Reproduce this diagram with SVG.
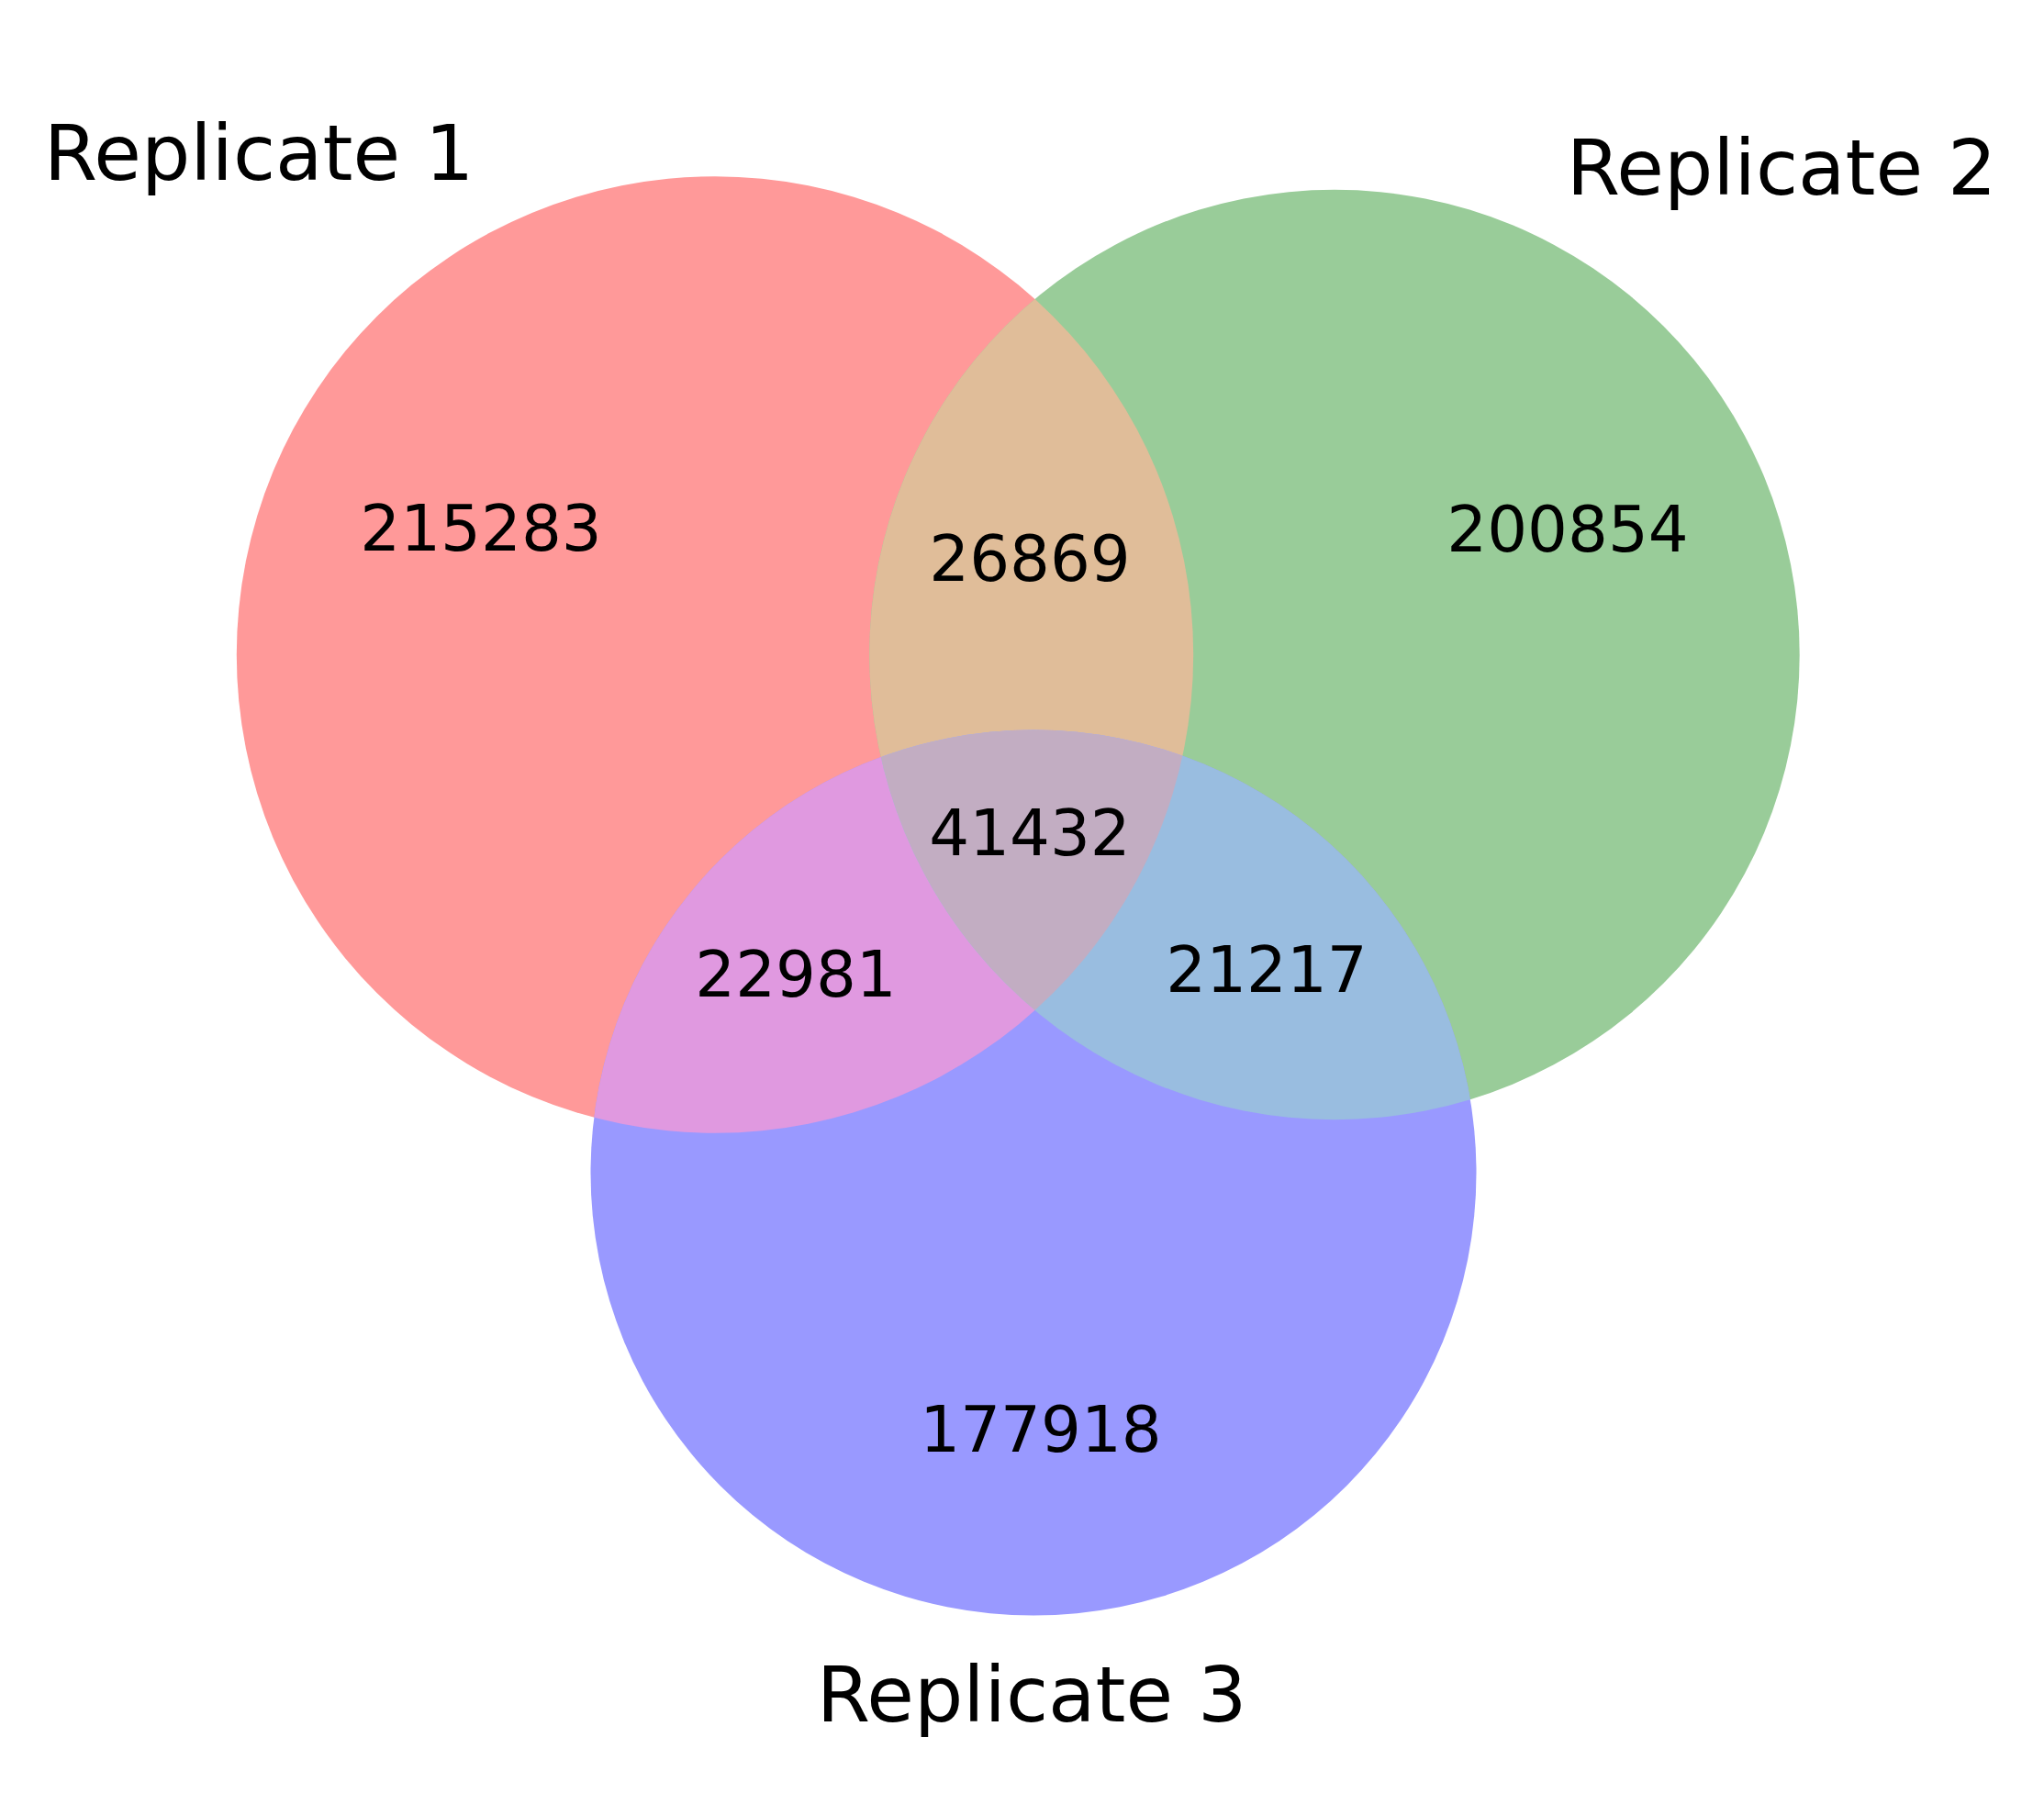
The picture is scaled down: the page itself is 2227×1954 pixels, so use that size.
<svg xmlns="http://www.w3.org/2000/svg" width="2227" height="1954" viewBox="0 0 2227 1954">
<style>
.lbl{font-family:"DejaVu Sans",sans-serif;font-size:84px;fill:#000;text-anchor:middle}
.num{font-family:"DejaVu Sans",sans-serif;font-size:69px;fill:#000;text-anchor:middle}
</style>
<defs>
<clipPath id="c1"><circle cx="779" cy="713.5" r="521.2"/></clipPath>
<clipPath id="c2"><circle cx="1454" cy="713.5" r="506.7"/></clipPath>
</defs>
<rect width="2227" height="1954" fill="#fff"/>
<g id="set1"><circle cx="779" cy="713.5" r="521.2" fill="#ff9999"/></g>
<g id="set2"><circle cx="1454" cy="713.5" r="506.7" fill="#99cc99"/></g>
<g id="set3"><circle cx="1126" cy="1278" r="482.5" fill="#9999ff"/></g>
<g id="overlap12"><circle cx="1454" cy="713.5" r="506.7" fill="#e0bd99" clip-path="url(#c1)"/></g>
<g id="overlap13"><circle cx="1126" cy="1278" r="482.5" fill="#e099e0" clip-path="url(#c1)"/></g>
<g id="overlap23"><circle cx="1126" cy="1278" r="482.5" fill="#99bde0" clip-path="url(#c2)"/></g>
<g id="overlap123" clip-path="url(#c1)"><circle cx="1126" cy="1278" r="482.5" fill="#c2adc2" clip-path="url(#c2)"/></g>
<g id="labels">
<text class="lbl" x="282" y="196">Replicate 1</text>
<text class="lbl" x="1941" y="212">Replicate 2</text>
<text class="lbl" x="1124" y="1876">Replicate 3</text>
</g>
<g id="counts">
<text class="num" x="524" y="600">215283</text>
<text class="num" x="1122" y="633">26869</text>
<text class="num" x="1708" y="601">200854</text>
<text class="num" x="1122" y="932">41432</text>
<text class="num" x="867" y="1086">22981</text>
<text class="num" x="1380" y="1081">21217</text>
<text class="num" x="1134" y="1582">177918</text>
</g>
<g id="connectors"/>
</svg>
